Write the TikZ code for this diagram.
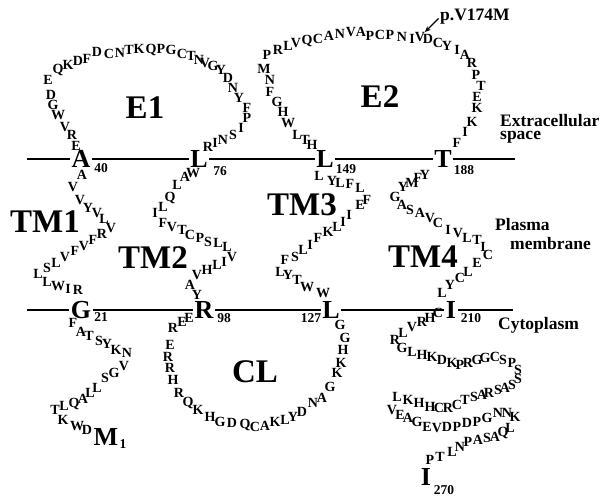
\documentclass[tikz,border=0pt]{standalone}
\usepackage{fontspec}
\setmainfont{Liberation Serif}
\usetikzlibrary{arrows.meta, positioning}

\tikzset{
  aa/.style={font=\fontsize{14}{14}\selectfont\bfseries, inner sep=0pt},
  bigaa/.style={font=\fontsize{26}{26}\selectfont\bfseries, inner sep=1.5pt},
  resno/.style={font=\fontsize{13.5}{13.5}\selectfont\bfseries, inner sep=0pt},
  region/.style={font=\fontsize{33}{33}\selectfont\bfseries, inner sep=0pt},
  side/.style={font=\fontsize{17.5}{17.5}\selectfont\bfseries, inner sep=0pt, anchor=base west},
  membrane/.style={line width=2.6pt},
}

\begin{document}
\begin{tikzpicture}[x=1pt, y=-1pt, >={Stealth[length=6pt, width=5pt]}]

\useasboundingbox (0,0) rectangle (606,500);

% Anchoring residues on the membrane
\node[bigaa] (M1)   at (106,437) {M};
\node[bigaa] (G21)  at (81,310)  {G};
\node[bigaa] (A40)  at (81,159)  {A};
\node[bigaa] (L76)  at (199,159) {L};
\node[bigaa] (R98)  at (204,310) {R};
\node[bigaa] (L127) at (331,310) {L};
\node[bigaa] (L149) at (325,159) {L};
\node[bigaa] (T188) at (443,159) {T};
\node[bigaa] (I210) at (451,310) {I};
\node[bigaa] (I270) at (426,477) {I};

% Residue numbers
\node[resno] (n1)   at (123,444) {1};
\node[resno] (n21)  at (101,317) {21};
\node[resno] (n40)  at (101,168) {40};
\node[resno] (n76)  at (220,171) {76};
\node[resno] (n98)  at (224,318) {98};
\node[resno] (n127) at (311,318) {127};
\node[resno] (n149) at (346,169) {149};
\node[resno] (n188) at (464,170) {188};
\node[resno] (n210) at (471,318) {210};
\node[resno] (n270) at (444,490) {270};

% Membrane boundaries
\coordinate (outL) at (27,159);
\coordinate (outR) at (515,159);
\coordinate (inL)  at (27,310);
\coordinate (inR)  at (513,310);
\draw[membrane] (outL) -- (A40) -- (L76) -- (L149) -- (T188) -- (outR);
\draw[membrane] (inL) -- (G21) -- (R98) -- (L127) -- (I210) -- (inR);

% N-terminus (M1 -> G21)
\foreach \x/\y/\r [count=\i] in {87/430/D, 77/426/W, 63/420/K, 55/410/T, 64/406/L,
  74/404/Q, 83/399/A, 90/393/L, 97/388/L, 105/378/S, 114/373/G, 124/366/V,
  127/353/N, 116/350/K, 107/344/Y, 99/341/S, 89/336/T, 81/332/A, 73/323/F}
  \node[aa] (nt\i) at (\x,\y) {\r};

% TM1 (G21 -> A40)
\foreach \x/\y/\r [count=\i] in {78/290/R, 68/289/I, 58/286/W, 47/282/L, 38/274/L,
  47/268/S, 56/263/L, 65/257/V, 75/251/F, 84/246/V, 93/240/F, 102/234/R,
  111/228/V, 104/219/L, 97/213/V, 88/208/Y, 80/200/V, 73/187/V, 82/175/A}
  \node[aa] (tma\i) at (\x,\y) {\r};

% E1 (A40 -> L76)
\foreach \x/\y/\r [count=\i] in {76/146/E, 72/135/R, 65/127/V, 58/115/W, 53/105/G,
  51/95/D, 48/80/E, 58/70/Q, 68/65/K, 78/61/D, 87/59/F, 97/52/D, 109/54/C,
  120/53/N, 129/50/T, 139/49/K, 151/50/Q, 161/49/P, 171/50/G, 182/54/C,
  191/56/T, 199/60/N, 205/63/V, 213/66/G, 221/70/Y, 228/78/D, 233/88/N,
  239/98/Y, 247/108/F, 247/118/P, 241/128/I, 233/135/S, 223/140/N,
  215/143/I, 208/147/R}
  \node[aa] (eone\i) at (\x,\y) {\r};

% TM2 (L76 -> R98)
\foreach \x/\y/\r [count=\i] in {193/173/W, 185/177/A, 177/185/L, 170/198/Q,
  163/207/L, 155/213/I, 163/223/F, 172/227/V, 182/230/T, 190/235/C, 200/238/P,
  208/242/S, 218/243/L, 227/247/L, 232/257/V, 224/262/I, 217/265/L, 207/270/H,
  197/275/V, 190/285/A, 197/295/Y}
  \node[aa] (tmb\i) at (\x,\y) {\r};

% CL (R98 -> L127)
\foreach \x/\y/\r [count=\i] in {189/318/E, 182/322/E, 173/328/R, 170/345/E,
  168/357/R, 170/368/R, 173/380/H, 179/393/R, 188/403/Q, 198/410/K, 210/417/H,
  220/422/G, 232/423/D, 245/425/Q, 255/427/C, 265/426/A, 275/422/K, 285/420/L,
  293/417/Y, 302/412/D, 313/403/N, 322/398/A, 330/387/G, 337/373/K, 341/363/K,
  343/350/H, 345/338/G, 340/325/G}
  \node[aa] (cl\i) at (\x,\y) {\r};

% TM3 (L127 -> L149)
\foreach \x/\y/\r [count=\i] in {323/293/W, 307/287/W, 297/280/T, 288/275/Y,
  280/272/L, 285/260/F, 295/257/S, 303/250/L, 310/245/I, 318/238/F, 328/232/K,
  337/227/L, 343/222/I, 349/215/I, 360/205/E, 367/200/F, 360/188/L, 350/184/F,
  340/183/L, 332/181/Y, 319/176/L}
  \node[aa] (tmc\i) at (\x,\y) {\r};

% E2 (L149 -> T188)
\foreach \x/\y/\r [count=\i] in {312/145/H, 305/140/T, 297/135/L, 288/123/W,
  283/112/H, 277/102/G, 270/92/F, 270/80/N, 264/69/M, 267/55/P, 278/50/R,
  288/46/L, 296/43/V, 307/41/Q, 318/39/C, 329/36/A, 340/34/N, 351/32/V,
  361/32/A, 370/36/P, 380/35/C, 390/35/P, 402/37/N, 412/39/I, 420/37/V,
  428/39/D, 438/43/C, 447/46/Y, 457/50/I, 465/55/A, 472/63/R, 476/75/P,
  481/86/T, 477/97/E, 477/108/K, 472/122/K, 465/132/I, 457/143/F}
  \node[aa] (etwo\i) at (\x,\y) {\r};

% TM4 (T188 -> I210)
\foreach \x/\y/\r [count=\i] in {425/175/Y, 418/178/F, 412/183/M, 403/187/Y,
  395/197/G, 402/205/A, 410/210/S, 420/213/A, 430/218/V, 438/223/C, 448/230/I,
  458/233/V, 467/238/L, 477/240/T, 483/247/I, 488/255/C, 477/263/E, 468/272/L,
  460/278/C, 450/285/Y, 442/293/L}
  \node[aa] (tmd\i) at (\x,\y) {\r};

% C-terminus (I210 -> I270)
\foreach \x/\y/\r [count=\i] in {438/313/C, 430/318/H, 422/322/R, 412/327/V,
  403/333/L, 395/340/R, 402/348/G, 412/352/L, 422/355/H, 432/357/K, 442/360/D,
  452/363/K, 460/365/P, 468/363/R, 477/360/G, 485/358/G, 495/357/C, 503/360/S,
  512/363/P, 518/370/S, 518/379/S, 512/385/S, 505/388/A, 498/390/S, 489/393/R,
  482/395/A, 474/397/S, 465/400/T, 457/405/C, 448/408/R, 439/408/C, 430/407/H,
  419/403/H, 408/400/K, 397/397/L, 392/410/V, 400/415/E, 408/418/A, 417/422/G,
  427/427/E, 437/428/V, 447/427/D, 457/427/P, 467/423/D, 477/422/P, 487/418/G,
  498/413/N, 507/413/N, 515/417/K, 510/428/L, 503/433/Q, 495/437/A, 487/438/S,
  478/440/A, 468/442/P, 460/447/N, 452/452/L, 440/457/T, 430/460/P}
  \node[aa] (ct\i) at (\x,\y) {\r};

% Domain labels
\node[region] (e1)  at (145,108) {E1};
\node[region] (e2)  at (380,97)  {E2};
\node[region] (tm1) at (45,222)  {TM1};
\node[region] (tm2) at (153,258) {TM2};
\node[region] (tm3) at (302,205) {TM3};
\node[region] (tm4) at (423,257) {TM4};
\node[region] (cl)  at (255,372) {CL};

% Compartments
\node[side] (extra)  at (500,127) {Extracellular};
\node[side] (space)  at (500,140) {space};
\node[side] (plasma) at (495,231) {Plasma};
\node[side] (memb)   at (510,250) {membrane};
\node[side] (cyto)   at (498,330) {Cytoplasm};

% Mutation
\node[side] (mut) at (440,21) {p.V174M};
\draw[->, line width=1.2pt, shorten <=2pt] (mut.west) -- (etwo25);

\end{tikzpicture}
\end{document}
